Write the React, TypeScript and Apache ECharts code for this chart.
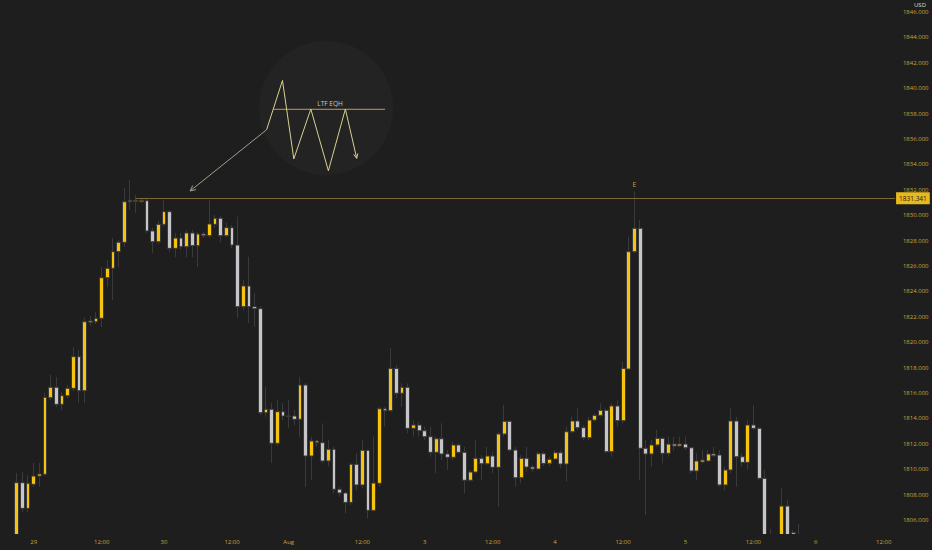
import React, { useEffect, useRef } from "react";
import * as echarts from "echarts";

// hourly slots on the time axis (candles + empty space on the right)
const SLOTS = 156;
const tickIndex = [3, 15, 26, 38, 48, 61, 72, 84, 95, 107, 118, 130, 141, 153];
const tickText = ["29", "12:00", "30", "12:00", "Aug", "12:00", "3", "12:00", "4", "12:00", "5", "12:00", "6", "12:00"];
const priceTicks = [
  1806, 1808, 1810, 1812, 1814, 1816, 1818, 1820, 1822, 1824, 1826,
  1828, 1830, 1832, 1834, 1836, 1838, 1840, 1842, 1844, 1846,
];
const priceMin = 1804.9;
const priceMax = 1846.945;

const opens = [
  1804.66, 1808.94, 1806.92, 1808.81, 1809.46, 1809.6, 1815.63, 1816.45, 1815.11, 1815.79,
  1816.37, 1818.86, 1816.18, 1821.57, 1821.61, 1821.88, 1825.08, 1825.82, 1827.13, 1827.87,
  1831.06, 1831.17, 1831.06, 1831.14, 1828.76, 1827.91, 1829.28, 1830.28, 1827.39, 1828.2,
  1827.52, 1828.6, 1827.6, 1828.52, 1828.39, 1829.28, 1829.76, 1828.39, 1829.02, 1827.65,
  1822.8, 1824.43, 1822.8, 1822.64, 1814.45, 1814.72, 1812.04, 1814.53, 1814.19, 1814.19,
  1813.93, 1816.63, 1811.04, 1812.22, 1812.09, 1810.65, 1811.57, 1808.42, 1808.13, 1807.39,
  1810.39, 1808.76, 1811.49, 1806.76, 1808.89, 1814.76, 1814.61, 1817.94, 1815.98, 1816.45,
  1813.22, 1813.48, 1813.03, 1812.56, 1811.33, 1812.4, 1811.2, 1810.94, 1811.91, 1811.33,
  1809.13, 1809.78, 1810.86, 1810.43, 1811.04, 1810.15, 1812.77, 1813.77, 1811.51, 1809.33,
  1810.86, 1810.17, 1810.02, 1811.22, 1810.46, 1810.8, 1811.3, 1810.41, 1812.95, 1813.8,
  1813.27, 1812.48, 1813.87, 1814.24, 1814.64, 1811.38, 1814.98, 1813.82, 1817.89, 1827.13,
  1828.97, 1811.65, 1811.2, 1811.91, 1812.43, 1811.25, 1811.98, 1811.83, 1811.98, 1811.69,
  1809.86, 1810.57, 1810.65, 1811.2, 1811.12, 1808.76, 1809.94, 1813.8, 1810.98, 1810.54,
  1813.48, 1813.22, 1809.28, 1803.8, 1801.2, 1803.9, 1807.1, 1805.0, 1804.7,
];
const closes = [
  1808.94, 1806.92, 1808.89, 1809.46, 1809.62, 1815.66, 1816.45, 1815.11, 1815.79, 1816.37,
  1818.86, 1816.18, 1821.61, 1821.67, 1821.88, 1825.08, 1825.82, 1827.13, 1827.87, 1831.06,
  1831.17, 1831.09, 1831.17, 1828.76, 1827.91, 1829.28, 1830.28, 1827.39, 1828.2, 1827.52,
  1828.6, 1827.6, 1828.52, 1828.39, 1829.31, 1829.76, 1828.39, 1829.02, 1827.65, 1822.8,
  1824.43, 1822.8, 1822.64, 1814.45, 1814.72, 1812.04, 1814.53, 1814.19, 1814.15, 1813.93,
  1816.63, 1811.04, 1812.22, 1812.09, 1810.65, 1811.57, 1808.42, 1808.13, 1807.39, 1810.39,
  1808.76, 1811.49, 1806.76, 1808.91, 1814.76, 1814.61, 1817.94, 1815.98, 1816.45, 1813.22,
  1813.48, 1813.03, 1812.56, 1811.33, 1812.4, 1811.2, 1810.94, 1811.91, 1811.33, 1809.13,
  1809.78, 1810.86, 1810.43, 1811.04, 1810.15, 1812.77, 1813.77, 1811.51, 1809.33, 1810.86,
  1810.17, 1810.02, 1811.22, 1810.46, 1810.78, 1811.3, 1810.41, 1812.95, 1813.8, 1813.27,
  1812.48, 1813.87, 1814.24, 1814.64, 1811.38, 1814.98, 1813.82, 1817.94, 1827.13, 1828.97,
  1811.65, 1811.2, 1811.91, 1812.43, 1811.25, 1811.98, 1811.83, 1811.98, 1811.69, 1809.86,
  1810.65, 1810.72, 1811.2, 1811.06, 1808.76, 1809.94, 1813.8, 1810.98, 1810.54, 1813.48,
  1813.22, 1809.28, 1803.8, 1801.2, 1803.9, 1807.1, 1804.2, 1804.85, 1804.2,
];
const highs = [
  1809.72, 1809.78, 1809.54, 1810.49, 1810.51, 1816.0, 1817.42, 1817.26, 1816.08, 1816.63,
  1819.62, 1819.39, 1821.91, 1822.06, 1822.38, 1825.92, 1826.47, 1828.2, 1828.05, 1832.14,
  1832.77, 1831.59, 1831.34, 1831.28, 1828.99, 1829.54, 1831.2, 1830.41, 1828.6, 1828.6,
  1828.83, 1828.83, 1828.68, 1828.68, 1831.2, 1830.02, 1829.94, 1829.39, 1829.23, 1829.88,
  1824.9, 1826.73, 1823.87, 1822.85, 1816.5, 1815.21, 1815.45, 1815.21, 1815.45, 1814.66,
  1817.28, 1816.79, 1812.56, 1812.3, 1813.61, 1812.3, 1811.77, 1808.62, 1808.23, 1810.46,
  1811.25, 1812.3, 1811.51, 1812.56, 1814.92, 1814.92, 1819.52, 1818.2, 1816.76, 1816.76,
  1813.87, 1813.74, 1813.35, 1813.35, 1812.56, 1813.61, 1811.51, 1812.17, 1812.04, 1811.77,
  1809.94, 1812.3, 1811.12, 1811.77, 1811.38, 1812.95, 1815.06, 1813.87, 1811.77, 1811.12,
  1811.77, 1810.33, 1811.38, 1811.38, 1810.98, 1811.51, 1811.51, 1813.35, 1814.13, 1814.8,
  1813.48, 1814.13, 1814.4, 1815.19, 1814.8, 1815.19, 1815.45, 1818.46, 1828.31, 1831.85,
  1829.62, 1812.3, 1812.3, 1813.09, 1812.56, 1812.56, 1812.56, 1812.56, 1812.56, 1811.77,
  1811.25, 1811.51, 1811.51, 1811.77, 1811.51, 1810.2, 1814.8, 1814.13, 1811.25, 1813.87,
  1815.06, 1813.35, 1809.94, 1805.3, 1804.4, 1808.5, 1807.57, 1805.21, 1805.69,
];
const lows = [
  1804.43, 1806.63, 1806.63, 1808.6, 1808.62, 1809.46, 1815.45, 1814.9, 1814.66, 1815.61,
  1816.16, 1815.21, 1815.21, 1821.28, 1821.43, 1821.2, 1824.35, 1823.32, 1825.92, 1827.5,
  1830.41, 1830.17, 1830.96, 1828.6, 1827.02, 1827.73, 1829.07, 1827.1, 1826.71, 1827.26,
  1826.71, 1826.71, 1825.92, 1828.2, 1828.2, 1828.99, 1827.89, 1828.28, 1827.42, 1821.91,
  1822.54, 1821.51, 1821.22, 1814.27, 1814.13, 1810.49, 1811.83, 1813.87, 1813.24, 1813.48,
  1812.56, 1808.62, 1809.15, 1811.77, 1810.46, 1810.2, 1808.1, 1807.83, 1806.53, 1807.18,
  1808.36, 1808.5, 1806.13, 1806.65, 1808.62, 1813.35, 1814.53, 1815.58, 1814.92, 1812.83,
  1812.56, 1812.56, 1812.3, 1810.98, 1809.68, 1810.72, 1809.94, 1810.72, 1811.25, 1808.1,
  1809.02, 1809.68, 1809.15, 1810.33, 1809.68, 1807.05, 1812.56, 1811.38, 1808.62, 1808.89,
  1809.8, 1809.8, 1809.94, 1810.25, 1810.2, 1810.72, 1810.07, 1809.02, 1812.83, 1813.09,
  1812.3, 1812.3, 1813.74, 1814.13, 1811.25, 1810.98, 1813.35, 1813.61, 1817.81, 1827.0,
  1809.15, 1806.39, 1810.2, 1811.77, 1810.46, 1810.98, 1811.51, 1811.77, 1811.51, 1809.68,
  1809.15, 1810.46, 1810.59, 1810.98, 1808.62, 1808.36, 1809.68, 1808.62, 1810.2, 1809.94,
  1813.09, 1809.15, 1802.5, 1800.5, 1800.8, 1803.5, 1803.8, 1804.4, 1803.9,
];

// horizontal level and event marker
const levelPrice = 1831.341;
const levelStart = 21;
const eventIndex = 109;
const eventPrice = 1832.38;
const eventText = "E";

// "LTF EQH" sketch, in (slot index, price)
const zigzagIdx = [44.1, 46.9, 48.9, 51.9, 55.0, 58.0, 60.0];
const zigzagPrice = [1836.73, 1840.61, 1834.43, 1838.36, 1833.5, 1838.36, 1834.48];
const pointerIdx = [44.1, 30.6];
const pointerPrice = [1836.73, 1831.91];
const eqhIdx = [45.3, 65.0];
const eqhPrice = 1838.34;
const eqhLabel = "LTF EQH";
const eqhLabelIdx = 55.3;
const eqhLabelPrice = 1838.76;
const focusIdx = 54.6;
const focusPrice = 1838.44;

const BG = "#1e1e1e";
const GOLD = "#c9a637";
const FONT = "'Open Sans', sans-serif";
const GRID = { left: 13.87, right: 34.1, top: 0, bottom: 16 };

export default function App() {
  const chartRef = useRef<HTMLDivElement>(null);

  useEffect(() => {
    if (!chartRef.current) return;
    const chart = echarts.init(chartRef.current, null, { renderer: "svg" });

    const categories = Array.from({ length: SLOTS }, (_, i) => String(i));
    const candles = opens.map((o, i) => [o, closes[i], lows[i], highs[i]]);

    chart.setOption({
      animation: false,
      backgroundColor: BG,
      grid: GRID,
      xAxis: {
        type: "category",
        data: categories,
        z: 10,
        axisLine: { show: false },
        axisTick: { show: false },
        splitLine: { show: false },
        axisLabel: {
          interval: (index: number) => tickIndex.includes(index),
          formatter: (_v: string, index: number) => {
            const k = tickIndex.indexOf(index);
            return k >= 0 ? tickText[k] : "";
          },
          color: GOLD,
          fontSize: 6,
          fontFamily: FONT,
          margin: 5,
        },
      },
      yAxis: {
        type: "value",
        position: "right",
        min: priceMin,
        max: priceMax,
        axisLine: { show: false },
        axisTick: { show: false },
        splitLine: { show: false },
        axisLabel: {
          customValues: priceTicks,
          formatter: (v: number) => v.toFixed(3),
          color: GOLD,
          fontSize: 6,
          fontFamily: FONT,
          margin: 5,
        },
      },
      series: [
        {
          type: "candlestick",
          data: candles,
          barWidth: 4.4,
          clip: true,
          itemStyle: {
            color: "#f6c30f",
            color0: "#c5c5ca",
            borderColor: "#3a3a3a",
            borderColor0: "#3a3a3a",
            borderColorDoji: "#3a3a3a",
            borderWidth: 1,
          },
          markLine: {
            silent: true,
            symbol: ["none", "none"],
            lineStyle: { color: "#7d6a33", width: 1, type: "solid" },
            label: {
              show: true,
              position: "end",
              distance: 1,
              formatter: () => levelPrice.toFixed(3),
              backgroundColor: "#e7b91d",
              color: "#1a1a1a",
              fontSize: 6.5,
              fontFamily: FONT,
              padding: [3, 3, 2, 3],
            },
            data: [
              [
                { coord: [levelStart, levelPrice] },
                { coord: [SLOTS - 1, levelPrice] },
              ],
            ],
          },
        },
      ],
    });

    // pixel position of a fractional slot index / price, via the axes
    const px = (i: number, p: number): number[] => {
      const a = Math.floor(i);
      const f = i - a;
      const x0 = chart.convertToPixel({ xAxisIndex: 0 }, a) as number;
      const x1 = chart.convertToPixel({ xAxisIndex: 0 }, a + 1) as number;
      const y = chart.convertToPixel({ yAxisIndex: 0 }, p) as number;
      return [x0 + (x1 - x0) * f, y];
    };
    const head = (from: number[], to: number[], len = 6) => {
      const ang = Math.atan2(to[1] - from[1], to[0] - from[0]);
      const a1 = ang + Math.PI - 0.45;
      const a2 = ang + Math.PI + 0.45;
      return [
        [to[0] + len * Math.cos(a1), to[1] + len * Math.sin(a1)],
        to,
        [to[0] + len * Math.cos(a2), to[1] + len * Math.sin(a2)],
      ];
    };

    const zig = zigzagIdx.map((i, k) => px(i, zigzagPrice[k]));
    const ptrA = px(pointerIdx[0], pointerPrice[0]);
    const ptrB = px(pointerIdx[1], pointerPrice[1]);
    const eqA = px(eqhIdx[0], eqhPrice);
    const eqB = px(eqhIdx[1], eqhPrice);
    const eqLbl = px(eqhLabelIdx, eqhLabelPrice);
    const focus = px(focusIdx, focusPrice);
    const ev = px(eventIndex, eventPrice);
    const plotBottom = chart.convertToPixel({ yAxisIndex: 0 }, priceMin) as number;

    chart.setOption({
      graphic: [
        // candlesticks are not cut at the plot edge: mask the time-axis strip
        {
          type: "rect",
          silent: true,
          z: 5,
          shape: { x: 0, y: plotBottom, width: 932, height: 550 - plotBottom },
          style: { fill: BG },
        },
        {
          type: "circle",
          silent: true,
          z: 1,
          shape: { cx: focus[0], cy: focus[1], r: 67 },
          style: { fill: "rgba(255,255,255,0.024)" },
        },
        {
          type: "line",
          silent: true,
          z: 2,
          shape: { x1: eqA[0], y1: eqA[1], x2: eqB[0], y2: eqB[1] },
          style: { stroke: "#b3a448", lineWidth: 1 },
        },
        {
          type: "polyline",
          silent: true,
          z: 3,
          shape: { points: zig },
          style: { stroke: "#d9d08f", lineWidth: 1 },
        },
        {
          type: "polyline",
          silent: true,
          z: 3,
          shape: { points: head(zig[zig.length - 2], zig[zig.length - 1], 5) },
          style: { stroke: "#d9d08f", lineWidth: 1 },
        },
        {
          type: "line",
          silent: true,
          z: 3,
          shape: { x1: ptrA[0], y1: ptrA[1], x2: ptrB[0], y2: ptrB[1] },
          style: { stroke: "#a39f8c", lineWidth: 1 },
        },
        {
          type: "polyline",
          silent: true,
          z: 3,
          shape: { points: head(ptrA, ptrB, 6) },
          style: { stroke: "#a39f8c", lineWidth: 1 },
        },
        {
          type: "text",
          silent: true,
          z: 4,
          x: eqLbl[0],
          y: eqLbl[1],
          style: {
            text: eqhLabel,
            fill: "#c9c6d8",
            fontSize: 6.5,
            fontFamily: FONT,
            align: "center",
            verticalAlign: "middle",
          },
        },
        {
          type: "text",
          silent: true,
          z: 4,
          x: ev[0],
          y: ev[1],
          style: {
            text: eventText,
            fill: GOLD,
            fontSize: 6.5,
            fontFamily: FONT,
            align: "center",
            verticalAlign: "middle",
          },
        },
        {
          type: "text",
          silent: true,
          z: 4,
          right: 6,
          top: 2,
          style: {
            text: "USD",
            fill: "#e2d8ba",
            fontSize: 6,
            fontFamily: FONT,
          },
        },
      ],
    });

    return () => {
      chart.dispose();
    };
  }, []);

  return (
    <div
      ref={chartRef}
      style={{ position: "absolute", left: 0, top: 0, width: 932, height: 550, background: BG }}
    />
  );
}
